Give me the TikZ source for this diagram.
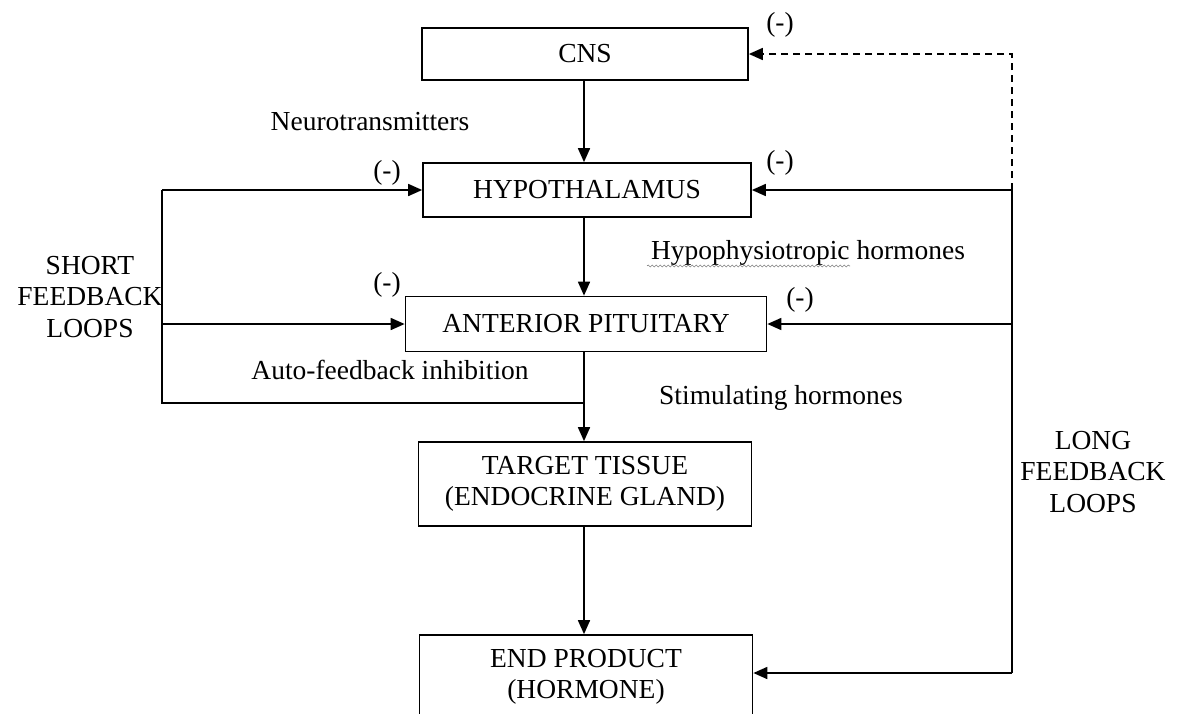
\documentclass[tikz,border=0pt]{standalone}
\usepackage{fontspec}
\setmainfont{Liberation Serif}
\usepackage{tikz}
\usetikzlibrary{arrows.meta,decorations.pathmorphing}

\begin{document}
\begin{tikzpicture}[x=1pt,y=-1pt,
    font=\fontsize{27.5}{31.5}\selectfont,
    line width=1.7pt,
    box/.style={draw, align=center, inner sep=0pt},
    arr/.style={-{Triangle[length=14pt,width=12pt]}},
    lbl/.style={align=center, inner sep=0pt}]

      \useasboundingbox (0,0) rectangle (1180,713);
      \clip (0,0) rectangle (1180,713);

      % boxes
      \node[box, minimum width=326pt, minimum height=52pt] (cns) at (585,54) {CNS};
      \node[box, minimum width=328pt, minimum height=54pt] (hypo) at (587,190) {HYPOTHALAMUS};
      \node[box, minimum width=361pt, minimum height=55pt] (ap) at (586,324) {ANTERIOR PITUITARY};
      \node[box, minimum width=333pt, minimum height=84pt] (tt) at (585,484) {TARGET TISSUE\\(ENDOCRINE GLAND)};
      \node[box, minimum width=333pt, minimum height=84pt] (endp) at (586,677) {END PRODUCT\\(HORMONE)};

      % main axis
      \draw[arr] (cns.south -| 584,0) -- (hypo.north -| 584,0);
      \draw[arr] (hypo.south -| 584,0) -- (ap.north -| 584,0);
      \draw[arr] (ap.south -| 584,0) -- (tt.north -| 584,0);
      \draw[arr] (tt.south -| 584,0) -- (endp.north -| 584,0);

      % short feedback loops
      \coordinate (stop) at (162,190);
      \coordinate (sbot) at (162,403);
      \draw (584,403) -- (sbot) -- (stop);
      \draw[arr] (stop) -- (hypo.west);
      \draw[arr] (sbot |- ap.west) -- (ap.west);

      % long feedback loops
      \coordinate (ltop) at (1012,54);
      \coordinate (lbot) at (1012,673);
      \draw[arr, dashed, dash pattern=on 7pt off 5pt] (ltop |- hypo.east) -- (ltop) -- (cns.east);
      \draw (lbot) -- (ltop |- hypo.east);
      \draw[arr] (ltop |- hypo.east) -- (hypo.east);
      \draw[arr] (ltop |- ap.east) -- (ap.east);
      \draw[arr] (lbot) -- (lbot -| endp.east);

      % inhibition signs
      \node[lbl] (m1) at (780,25) {(-)};
      \node[lbl] (m2) at (780,163) {(-)};
      \node[lbl] (m3) at (800,300) {(-)};
      \node[lbl] (m4) at (387,173) {(-)};
      \node[lbl] (m5) at (387,285) {(-)};

      % labels
      \node[lbl] (neuro) at (370,122) {Neurotransmitters};
      \node[lbl] (hyph) at (808,253) {Hypophysiotropic hormones};
      \draw[gray, line width=0.6pt, decorate, decoration={snake, amplitude=1pt, segment length=4pt}]
        (647,266) -- (850,266);
      \node[lbl] (auto) at (390,370) {Auto-feedback inhibition};
      \node[lbl] (stim) at (781,398) {Stimulating hormones};
      \node[lbl] (short) at (90,297) {SHORT\\FEEDBACK\\LOOPS};
      \node[lbl] (long) at (1093,472) {LONG\\FEEDBACK\\LOOPS};

\end{tikzpicture}
\end{document}
